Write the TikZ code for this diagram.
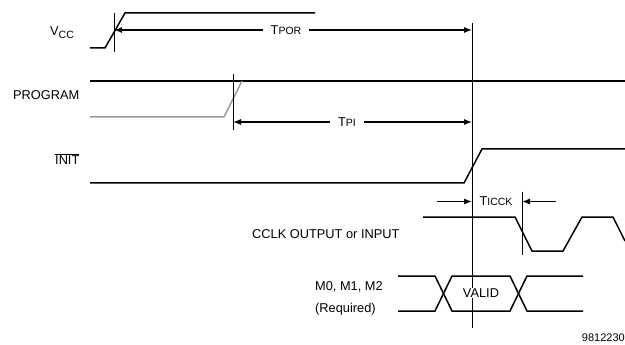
\documentclass[tikz,border=0pt]{standalone}
\usepackage{fontspec}
\setmainfont{Liberation Sans}
\usetikzlibrary{arrows.meta}
\newcommand{\smallpart}[1]{{\fontsize{10.5}{12}\selectfont #1}}

\begin{document}
\begin{tikzpicture}[x=1pt, y=-1pt,
	every node/.style={font=\fontsize{12.8}{14}\selectfont, inner sep=0pt},
	signal/.style={line width=1.5pt},
	marker/.style={line width=0.9pt},
	timing/.style={line width=1.1pt, {Latex[length=8pt,width=6pt]}-{Latex[length=8pt,width=6pt]}},
	pointer/.style={line width=1.1pt, -{Latex[length=8pt,width=6pt]}},
	gap/.style={fill=white, inner xsep=8pt, inner ysep=1pt}]
	\useasboundingbox (0,0) rectangle (625,345);

	% Signal names
	\node[anchor=base west] (vcc) at (50,35.5) {V\raisebox{-0.45ex}{\smallpart{CC}}};
	\node[anchor=base west] (program) at (13,99.5) {PROGRAM};
	\node[anchor=base west] (init) at (55,164.5) {$\overline{\mbox{INIT}}$};
	\node[anchor=base west] (cclk) at (252,238) {CCLK OUTPUT or INPUT};
	\node[anchor=base west] (mode) at (315,290) {M0, M1, M2};
	\node[anchor=base west] (required) at (315,312) {(Required)};

	% Waveforms
	\draw[signal] (90,48) -- (105,48) -- (125,13) -- (315,13);
	\draw[signal] (90,81) -- (625,81);
	\draw[signal, black!40] (90,117) -- (224,117) -- (242,81);
	\draw[signal] (90,183) -- (464,183) -- (482,149) -- (625,149);
	\draw[signal] (423,217) -- (515,217) -- (532,251) -- (563,251) -- (582,217) -- (613,217) -- (625,241);
	\draw[signal] (398,276) -- (435,276) -- (452,311) -- (510,311) -- (527,276) -- (583,276);
	\draw[signal] (398,311) -- (435,311) -- (452,276) -- (510,276) -- (527,311) -- (583,311);

	% Markers
	\draw[marker] (114,13) -- (114,52);
	\draw[marker] (233,74) -- (233,130);
	\draw[marker] (472,23) -- (472,328);
	\draw[marker] (522,192) -- (522,255);
	\coordinate (vccedge) at (114,30);
	\coordinate (poredge) at (472,30);
	\coordinate (progedge) at (233,122);
	\coordinate (piedge) at (472,122);
	\coordinate (icckleft) at (437,201.5);
	\coordinate (icckstart) at (472,201.5);
	\coordinate (icckright) at (556,201.5);
	\coordinate (icckend) at (522,201.5);

	% Timing arrows
	\draw[timing] (vccedge) -- (poredge);
	\draw[timing] (progedge) -- (piedge);
	\draw[pointer] (icckleft) -- (icckstart);
	\draw[pointer] (icckright) -- (icckend);
	\node[gap] (tpor) at (286,30) {T\smallpart{POR}};
	\node[gap] (tpi) at (347,122) {T\smallpart{PI}};
	\node (ticck) at (496,201.5) {T\smallpart{ICCK}};
	\node[fill=white, inner sep=1pt] (valid) at (481,293) {VALID};

	% Drawing number
	\node[anchor=east, font=\fontsize{11}{12}\selectfont] (number) at (625,338) {9812230};
\end{tikzpicture}
\end{document}
